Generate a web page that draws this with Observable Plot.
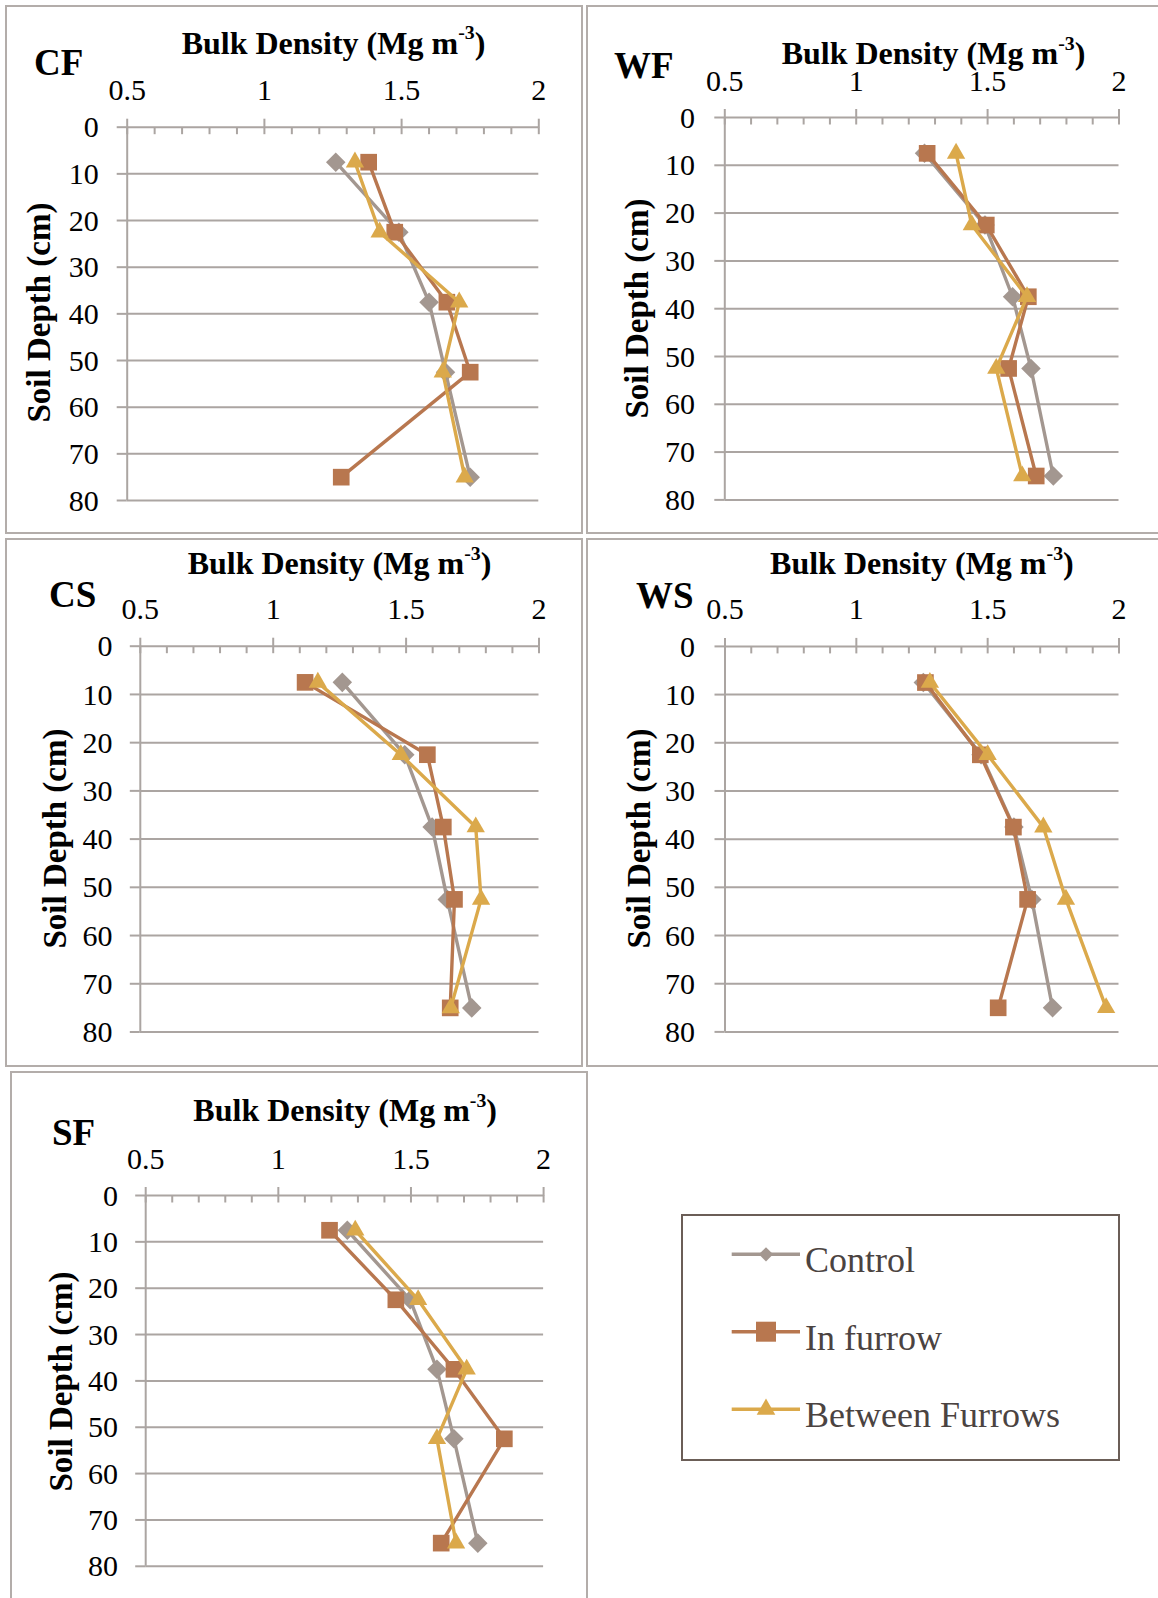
<!DOCTYPE html>
<html>
<head>
<meta charset="utf-8">
<script src="https://cdn.jsdelivr.net/npm/d3@7"></script>
<script src="https://cdn.jsdelivr.net/npm/@observablehq/plot@0.6"></script>
<style>
  html, body { margin: 0; padding: 0; background: #fff; overflow: hidden; }
  #page { position: relative; width: 1158px; height: 1598px; overflow: hidden; background: #fff;
          font-family: "Liberation Serif", "Times New Roman", serif; }
  #page svg, #page svg text { font-family: "Liberation Serif", "Times New Roman", serif; }
  .box { position: absolute; border: 2px solid #B3ADAA; box-sizing: border-box; }
  .t { position: absolute; white-space: nowrap; line-height: 1; color: #000; }
  .sup { font-size: 0.62em; position: relative; top: -0.72em; line-height: 0; }
</style>
</head>
<body>
<div id="page"></div>
<script>
// ---------------- DATA ----------------
const depths = [7.5, 22.5, 37.5, 52.5, 75];
const seriesNames = ["Control", "In furrow", "Between Furrows"];
const panelNames = ["CF", "WF", "CS", "WS", "SF"];

const cfControl  = [1.26, 1.49, 1.60, 1.66, 1.75];
const cfInFurrow = [1.38, 1.475, 1.665, 1.75, 1.28];
const cfBetween  = [1.33, 1.42, 1.71, 1.65, 1.73];

const wfControl  = [1.26, 1.49, 1.595, 1.665, 1.75];
const wfInFurrow = [1.27, 1.495, 1.655, 1.58, 1.685];
const wfBetween  = [1.38, 1.44, 1.65, 1.533, 1.632];

const csControl  = [1.26, 1.495, 1.598, 1.655, 1.747];
const csInFurrow = [1.12, 1.58, 1.64, 1.682, 1.666];
const csBetween  = [1.168, 1.48, 1.762, 1.782, 1.668];

const wsControl  = [1.255, 1.475, 1.60, 1.668, 1.747];
const wsInFurrow = [1.263, 1.472, 1.598, 1.652, 1.54];
const wsBetween  = [1.28, 1.50, 1.712, 1.798, 1.951];

const sfControl  = [1.26, 1.497, 1.598, 1.662, 1.752];
const sfInFurrow = [1.193, 1.443, 1.662, 1.852, 1.614];
const sfBetween  = [1.29, 1.527, 1.71, 1.598, 1.67];

const xTicks = [0.5, 1, 1.5, 2];
const xTickLabels = ["0.5", "1", "1.5", "2"];
const xMinorTicks = [0.5, 0.6, 0.7, 0.8, 0.9, 1.0, 1.1, 1.2, 1.3, 1.4, 1.5, 1.6, 1.7, 1.8, 1.9, 2.0];
const yTicks = [0, 10, 20, 30, 40, 50, 60, 70, 80];
const yGridLines = [10, 20, 30, 40, 50, 60, 70, 80];
const xTitleMain = "Bulk Density (Mg m";
const xTitleSup = "-3";
const xTitleEnd = ")";
const yTitle = "Soil Depth (cm)";

const panelValues = {
  CF: [cfControl, cfInFurrow, cfBetween],
  WF: [wfControl, wfInFurrow, wfBetween],
  CS: [csControl, csInFurrow, csBetween],
  WS: [wsControl, wsInFurrow, wsBetween],
  SF: [sfControl, sfInFurrow, sfBetween]
};

// ---------------- STYLE / LAYOUT ----------------
const seriesColors = ["#A39790", "#B8774F", "#DBA94B"];
const seriesSymbols = ["diamond2", "square", "triangle"];
const seriesRadii = [8.8, 9.4, 6.8];
const gridColor = "#ABA5A2";
const fontFamily = "Liberation Serif, Times New Roman, serif";

const layout = {
  CF: {box: [5, 5, 578, 529],    svg: [5, 5, 578, 529],    x0: 126.7, x1: 538.3, y0: 126.7, y1: 500,    yLab: 98.3,  label: [34, 75],    title: [333.5, 53.3],  yTitle: [39.4, 312]},
  WF: {box: [586, 5, 600, 529],  svg: [586, 5, 572, 529],  x0: 724.3, x1: 1118.5, y0: 117,  y1: 499.4,  yLab: 694.6, label: [614, 77.5],  title: [933.5, 63.7],  yTitle: [636.7, 308]},
  CS: {box: [5, 538, 578, 529],  svg: [5, 538, 578, 529],  x0: 139.8, x1: 538.5, y0: 645.7, y1: 1031.5, yLab: 112,   label: [49, 607.3], title: [339.5, 574.2], yTitle: [54.7, 838]},
  WS: {box: [586, 538, 600, 529],svg: [586, 538, 572, 529],x0: 724.5, x1: 1118.5, y0: 645.9, y1: 1031.4, yLab: 694.6, label: [636, 608.4], title: [921.9, 574], yTitle: [638.7, 838]},
  SF: {box: [10, 1071, 578, 600],svg: [10, 1071, 578, 527],x0: 145.2, x1: 543.1, y0: 1195, y1: 1565.8, yLab: 117.4, label: [52, 1145],  title: [345.2, 1121],  yTitle: [60.7, 1381]}
};

const page = document.getElementById("page");

function addBox(b) {
  const d = document.createElement("div");
  d.className = "box";
  d.style.left = b[0] + "px"; d.style.top = b[1] + "px";
  d.style.width = b[2] + "px"; d.style.height = b[3] + "px";
  page.appendChild(d);
  return d;
}

function addText(nodes, x, baseline, size, bold, center, color) {
  const d = document.createElement("div");
  d.className = "t";
  nodes.forEach(n => d.appendChild(n));
  d.style.fontSize = size + "px";
  d.style.fontWeight = bold ? "bold" : "normal";
  d.style.top = (baseline - 0.8375 * size) + "px";
  d.style.left = x + "px";
  if (center) d.style.transform = "translateX(-50%)";
  if (color) d.style.color = color;
  page.appendChild(d);
  return d;
}
const txt = s => document.createTextNode(s);

const tickDown = {draw(ctx) { ctx.moveTo(0, 0); ctx.lineTo(0, 7); }};

// ---------------- PANELS ----------------
panelNames.forEach(name => addBox(layout[name].box));

panelNames.forEach(name => {
  const L = layout[name];
  const vals = panelValues[name];
  const [sl, st, sw, sh] = L.svg;

  const marks = [
    Plot.ruleY(yGridLines, {stroke: gridColor, strokeWidth: 2}),
    Plot.ruleY([0], {stroke: gridColor, strokeWidth: 2}),
    Plot.ruleX([0.5], {stroke: gridColor, strokeWidth: 2}),
    Plot.dot(xMinorTicks, {x: d => d, y: () => 0, symbol: tickDown, stroke: gridColor, strokeWidth: 2, fill: "none"}),
    Plot.axisX({anchor: "top", ticks: xTicks, tickFormat: d => xTickLabels[xTicks.indexOf(d)],
                tickSize: 9, tickPadding: 18, fontSize: 30, fontFamily, stroke: gridColor, strokeWidth: 2, fill: "#000"}),
    Plot.axisY({anchor: "left", ticks: yTicks, tickSize: 10, stroke: gridColor, strokeWidth: 2, fill: "none"}),
    Plot.axisY({anchor: "left", ticks: yTicks, tickSize: 0, tickPadding: L.x0 - L.yLab, dy: 0.5,
                fontSize: 30, fontFamily, fill: "#000", tickFormat: d => String(d)})
  ];

  seriesNames.forEach((sName, s) => {
    const rows = depths.map((dep, i) => ({series: sName, depth: dep, density: vals[s][i]}));
    marks.push(Plot.line(rows, {x: "density", y: "depth", stroke: seriesColors[s], strokeWidth: 3.4,
                                strokeLinejoin: "round", strokeLinecap: "round"}));
    marks.push(Plot.dot(rows, {x: "density", y: "depth", symbol: seriesSymbols[s], r: seriesRadii[s],
                               fill: seriesColors[s], stroke: "none"}));
  });

  const plot = Plot.plot({
    width: sw, height: sh,
    marginLeft: L.x0 - sl, marginRight: sl + sw - L.x1,
    marginTop: L.y0 - st, marginBottom: st + sh - L.y1,
    x: {domain: [0.5, 2], label: null},
    y: {domain: [0, 80], reverse: true, label: null},
    style: {background: "transparent", fontFamily: fontFamily, overflow: "visible"},
    marks
  });
  plot.setAttribute("font-family", fontFamily);
  plot.style.position = "absolute";
  plot.style.left = sl + "px";
  plot.style.top = st + "px";
  page.appendChild(plot);

  // Panel label
  addText([txt(name)], L.label[0], L.label[1], 37, true, false);
  // X title with superscript
  const sup = document.createElement("span");
  sup.className = "sup"; sup.textContent = xTitleSup;
  addText([txt(xTitleMain), sup, txt(xTitleEnd)], L.title[0], L.title[1], 32, true, true);
  // Y title rotated
  const fs = 33;
  const yd = document.createElement("div");
  yd.className = "t";
  yd.textContent = yTitle;
  yd.style.fontSize = fs + "px";
  yd.style.fontWeight = "bold";
  yd.style.width = "400px";
  yd.style.textAlign = "center";
  yd.style.left = (L.yTitle[0] - 200) + "px";
  yd.style.top = (L.yTitle[1] - fs / 2) + "px";
  yd.style.transformOrigin = "50% 50%";
  yd.style.transform = "rotate(-90deg)";
  page.appendChild(yd);
});

// ---------------- LEGEND ----------------
const legendBox = addBox([681, 1214, 439, 247]);
legendBox.style.borderColor = "#6B5E57";

const legendLineY = [1254.3, 1331.7, 1409.3];
const legendTextBase = [1272.3, 1350, 1426.7];
const legendSymbolSize = [130, 400, 150];
const legendSymbols = [d3.symbolDiamond2, d3.symbolSquare, d3.symbolTriangle];

const lsvg = d3.select(page).append("svg")
  .attr("width", 1158).attr("height", 1598)
  .style("position", "absolute").style("left", "0px").style("top", "0px")
  .style("pointer-events", "none");

seriesNames.forEach((sName, s) => {
  lsvg.append("line")
    .attr("x1", 731.7).attr("x2", 800)
    .attr("y1", legendLineY[s]).attr("y2", legendLineY[s])
    .attr("stroke", seriesColors[s]).attr("stroke-width", 3.4);
  lsvg.append("path")
    .attr("d", d3.symbol(legendSymbols[s], legendSymbolSize[s])())
    .attr("transform", `translate(766,${legendLineY[s]})`)
    .attr("fill", seriesColors[s]);
  addText([txt(sName)], 805, legendTextBase[s], 36, false, false, "#4B4341");
});
</script>
</body>
</html>
